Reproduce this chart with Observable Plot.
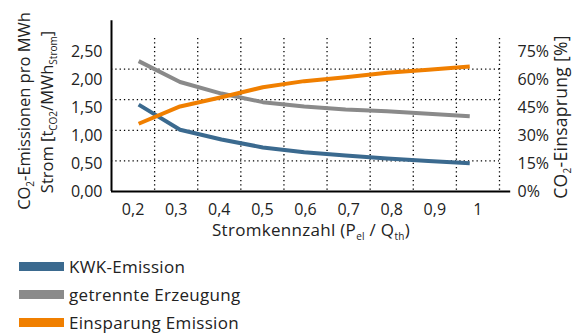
<!DOCTYPE html>
<html><head><meta charset="utf-8">
<script src="https://cdn.jsdelivr.net/npm/d3@7"></script>
<script src="https://cdn.jsdelivr.net/npm/@observablehq/plot@0.6"></script>
<style>
body{margin:0;background:#fff;font-family:"Open Sans",sans-serif;color:#222}
#legend{padding-top:4px}
.row{display:flex;align-items:center;height:28.3px}
.sw{width:45px;height:9px;margin-left:19px;margin-right:5px}
.lab{font-size:17px;line-height:1;letter-spacing:0.3px}
</style></head><body><div id="chart"></div><div id="legend"></div>
<script>
// Stromkennzahl positions of the line vertices (in axis-label units)
const xRead = [0.213, 0.309, 0.405, 0.501, 0.597, 0.693, 0.789, 0.885, 0.981];
// CO2 emissions per MWh electricity [t/MWh]
const kwk = [1.42, 1.01, 0.85, 0.72, 0.64, 0.59, 0.54, 0.50, 0.46];
const getrennt = [2.13, 1.79, 1.60, 1.46, 1.39, 1.34, 1.31, 1.27, 1.23];
// CO2 savings [%]
const einsparung = [33.2, 41.7, 46.2, 51.1, 54.1, 56.0, 58.2, 59.7, 61.3];

const xTicks = [0.2, 0.3, 0.4, 0.5, 0.6, 0.7, 0.8, 0.9, 1.0];
const xGrid = [0.25, 0.35, 0.45, 0.55, 0.65, 0.75, 0.85, 0.95, 1.05];
const yTicks = [0, 0.5, 1.0, 1.5, 2.0, 2.5];
const yGrid = [0.5, 1.0, 1.5, 2.0];
const pctTicks = [0, 15, 30, 45, 60, 75];

const seriesNames = ["KWK-Emission", "getrennte Erzeugung", "Einsparung Emission"];
const colors = ["#3b6a8f", "#8a8a8a", "#f07f00"];

const pctToY = p => p * 2.5 / 75;
// tick labels in the original sit on a slightly compressed spacing
const labelY = v => (56 * v - 0.7) / 61.2;

const rows = xRead.map((x, i) => ({x, kwk: kwk[i], getrennt: getrennt[i], einsparung: pctToY(einsparung[i])}));

const fmtY = d => d3.format(".2f")(d).replace(".", ",");
const fmtX = d => d === 1 ? "1" : d3.format(".1f")(d).replace(".", ",");
const grid = {stroke: "#000", strokeWidth: 1.3, strokeDasharray: "1.3,3"};

const plot = Plot.plot({
  width: 573, height: 248,
  marginLeft: 111, marginRight: 74, marginTop: 38, marginBottom: 57,
  x: {domain: [0.15, 1.05], axis: null},
  y: {domain: [0, 2.5], axis: null},
  style: {fontFamily: "Open Sans", fontSize: "16px", color: "#222", background: "#fff", overflow: "visible"},
  marks: [
    Plot.ruleX(xGrid, grid),
    Plot.ruleY(yGrid, {x1: 0.15, x2: 1.05, ...grid}),
    Plot.ruleX([0.15], {y1: 0, y2: 2.79, stroke: "#000", strokeWidth: 2}),
    Plot.ruleY([0], {x1: 0.15, x2: 1.076, stroke: "#000", strokeWidth: 2}),
    Plot.line(rows, {x: "x", y: "kwk", stroke: colors[0], strokeWidth: 4, strokeLinecap: "butt"}),
    Plot.line(rows, {x: "x", y: "getrennt", stroke: colors[1], strokeWidth: 4, strokeLinecap: "butt"}),
    Plot.line(rows, {x: "x", y: "einsparung", stroke: colors[2], strokeWidth: 4, strokeLinecap: "butt"}),
    Plot.text(yTicks, {x: 0.15, y: d => labelY(d), text: fmtY, textAnchor: "end", dx: -9, fontSize: 16, fill: "#222"}),
    Plot.text(pctTicks, {x: 1.05, y: d => labelY(pctToY(d)), text: d => d + "%", textAnchor: "start", dx: 18, fontSize: 16, fill: "#222"}),
    Plot.text(xTicks, {x: d => d, y: 0, dy: 18.5, text: fmtX, fontSize: 16, fill: "#222"})
  ]
});
document.getElementById("chart").appendChild(plot);

const svg = d3.select(plot);
function addText(parent, parts, attrs, size, spacing) {
  const t = parent.append("text").attr("fill", "#222").attr("font-family", "Open Sans")
    .attr("font-size", size).attr("letter-spacing", spacing);
  Object.entries(attrs).forEach(([k, v]) => t.attr(k, v));
  let shifted = false;
  parts.forEach(p => {
    const sub = typeof p === "object";
    const s = t.append("tspan").text(sub ? p.sub : p);
    if (sub && !shifted) { s.attr("dy", 4).attr("font-size", 10); shifted = true; }
    else if (!sub && shifted) { s.attr("dy", -4); shifted = false; }
    else if (sub) s.attr("font-size", 10);
  });
  return t;
}
addText(svg, ["Stromkennzahl (P", {sub: "el"}, " / Q", {sub: "th"}, ")"], {x: 311, y: 236, "text-anchor": "middle"}, 17, 0.3);
addText(svg, ["CO", {sub: "2"}, "-Emissionen pro MWh"], {transform: "translate(30,111) rotate(-90)", "text-anchor": "middle"}, 16.5, 0);
addText(svg, ["Strom [t", {sub: "CO2"}, "/MWh", {sub: "Strom"}, "]"], {transform: "translate(53,112) rotate(-90)", "text-anchor": "middle"}, 16.5, 0);
addText(svg, ["CO", {sub: "2"}, "-Einsaprung [%]"], {transform: "translate(567,117) rotate(-90)", "text-anchor": "middle"}, 17.5, 0.3);

const legend = d3.select("#legend");
seriesNames.forEach((n, i) => {
  const r = legend.append("div").attr("class", "row");
  r.append("div").attr("class", "sw").style("background", colors[i]);
  r.append("div").attr("class", "lab").text(n);
});
</script></body></html>
